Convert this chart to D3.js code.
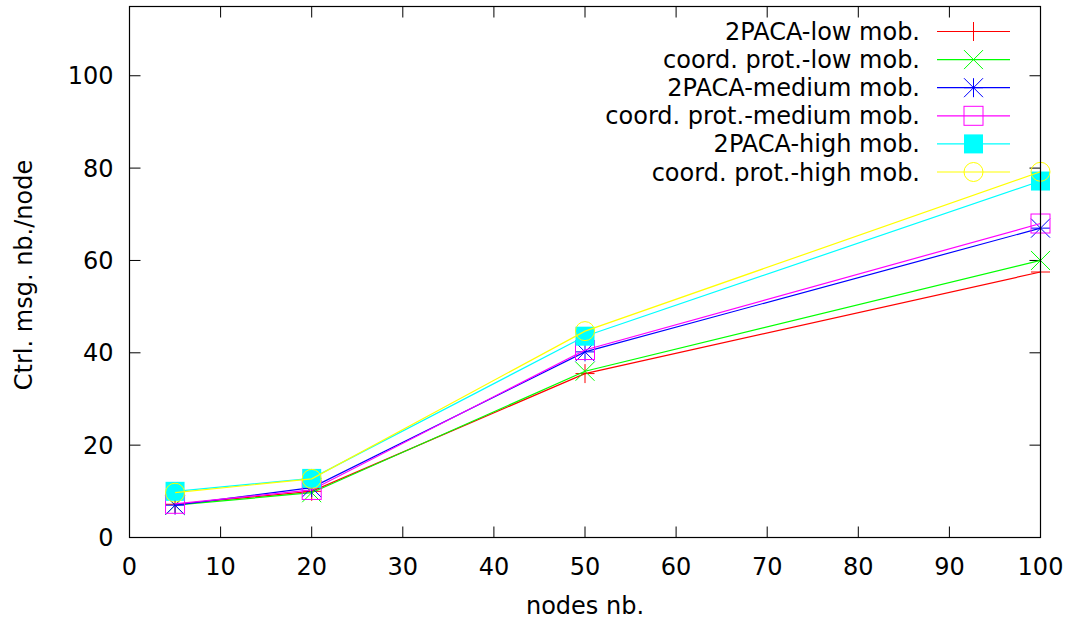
<!DOCTYPE html>
<html>
<head>
<meta charset="utf-8">
<script src="https://cdn.jsdelivr.net/npm/d3@7"></script>
<style>
  body { margin: 0; background: #fff; }
  text { font-family: "DejaVu Sans", sans-serif; fill: #000; }
</style>
</head>
<body>
<script>
// data
var nodes = [5, 20, 50, 100];
var xTicks = [0, 10, 20, 30, 40, 50, 60, 70, 80, 90, 100];
var yTicks = [0, 20, 40, 60, 80, 100];

var seriesNames = ["2PACA-low mob.", "coord. prot.-low mob.", "2PACA-medium mob.",
                   "coord. prot.-medium mob.", "2PACA-high mob.", "coord. prot.-high mob."];
var seriesColors = ["#ff0000", "#00ff00", "#0000ff", "#ff00ff", "#00ffff", "#ffff00"];
var seriesMarkers = ["plus", "cross", "star", "square", "filledSquare", "circle"];

var lowPaca = [7.2, 10.0, 35.5, 57.5];
var lowCoord = [7.0, 9.7, 36.0, 60.0];
var medPaca = [7.0, 10.8, 40.2, 67.0];
var medCoord = [7.3, 10.3, 40.6, 68.0];
var highPaca = [10.0, 12.8, 43.6, 77.2];
var highCoord = [9.7, 12.7, 44.7, 79.2];
var seriesValues = [lowPaca, lowCoord, medPaca, medCoord, highPaca, highCoord];

// set the dimensions and margins of the graph
var W = 1073, H = 623;
var margin = {top: 6.5, right: 32.5, bottom: 85.5, left: 129.5},
    width = W - margin.left - margin.right,
    height = H - margin.top - margin.bottom;

var svg = d3.select("body").append("svg")
    .attr("width", W)
    .attr("height", H);

var g = svg.append("g")
    .attr("transform", "translate(" + margin.left + "," + margin.top + ")");

var x = d3.scaleLinear().domain([0, 100]).range([0, width]);
var y = d3.scaleLinear().domain([0, 115]).range([height, 0]);

var fs = 24;
var tickLen = 11;

// ticks, mirrored on all four sides, pointing inward
g.append("g")
  .selectAll("line").data(xTicks).enter().append("line")
    .attr("x1", d => x(d)).attr("x2", d => x(d))
    .attr("y1", height).attr("y2", height - tickLen)
    .attr("stroke", "#000");
g.append("g")
  .selectAll("line").data(xTicks).enter().append("line")
    .attr("x1", d => x(d)).attr("x2", d => x(d))
    .attr("y1", 0).attr("y2", tickLen)
    .attr("stroke", "#000");
g.append("g")
  .selectAll("line").data(yTicks).enter().append("line")
    .attr("x1", 0).attr("x2", tickLen)
    .attr("y1", d => y(d)).attr("y2", d => y(d))
    .attr("stroke", "#000");
g.append("g")
  .selectAll("line").data(yTicks).enter().append("line")
    .attr("x1", width).attr("x2", width - tickLen)
    .attr("y1", d => y(d)).attr("y2", d => y(d))
    .attr("stroke", "#000");

// tick labels
g.append("g")
  .selectAll("text").data(xTicks).enter().append("text")
    .attr("x", d => x(d)).attr("y", height + 37)
    .attr("text-anchor", "middle")
    .style("font-size", fs + "px")
    .text(d => d);
g.append("g")
  .selectAll("text").data(yTicks).enter().append("text")
    .attr("x", -16).attr("y", d => y(d) + 8.5)
    .attr("text-anchor", "end")
    .style("font-size", fs + "px")
    .text(d => d);

// axis titles
svg.append("text")
  .attr("x", margin.left + width / 2).attr("y", 614)
  .attr("text-anchor", "middle")
  .style("font-size", fs + "px")
  .text("nodes nb.");
svg.append("text")
  .attr("transform", "translate(32,275) rotate(-90)")
  .attr("text-anchor", "middle")
  .style("font-size", fs + "px")
  .text("Ctrl. msg. nb./node");

// marker drawing
function drawMarker(sel, type, color) {
  var s = 9.5;
  if (type === "plus") {
    sel.append("path").attr("d", "M" + (-s) + ",0H" + s + "M0," + (-s) + "V" + s)
      .attr("stroke", color).attr("fill", "none");
  } else if (type === "cross") {
    sel.append("path").attr("d", "M" + (-s) + "," + (-s) + "L" + s + "," + s + "M" + (-s) + "," + s + "L" + s + "," + (-s))
      .attr("stroke", color).attr("fill", "none");
  } else if (type === "star") {
    sel.append("path").attr("d", "M" + (-s) + ",0H" + s + "M0," + (-s) + "V" + s +
        "M" + (-s) + "," + (-s) + "L" + s + "," + s + "M" + (-s) + "," + s + "L" + s + "," + (-s))
      .attr("stroke", color).attr("fill", "none");
  } else if (type === "square") {
    sel.append("rect").attr("x", -s).attr("y", -s).attr("width", 2 * s).attr("height", 2 * s)
      .attr("stroke", color).attr("fill", "none");
  } else if (type === "filledSquare") {
    sel.append("rect").attr("x", -s).attr("y", -s).attr("width", 2 * s).attr("height", 2 * s)
      .attr("stroke", "none").attr("fill", color);
  } else if (type === "circle") {
    sel.append("circle").attr("r", s)
      .attr("stroke", color).attr("fill", "none");
  }
}

var line = d3.line()
  .x(d => x(d[0]))
  .y(d => y(d[1]));

seriesValues.forEach(function(vals, i) {
  var pts = nodes.map((n, j) => [n, vals[j]]);
  g.append("path")
    .datum(pts)
    .attr("d", line)
    .attr("fill", "none")
    .attr("stroke", seriesColors[i])
    .attr("stroke-width", 1.2);
  pts.forEach(function(p) {
    var m = g.append("g").attr("transform", "translate(" + x(p[0]) + "," + y(p[1]) + ")");
    drawMarker(m, seriesMarkers[i], seriesColors[i]);
  });
});

// legend
var legend = svg.append("g");
seriesNames.forEach(function(name, i) {
  var ly = 31.5 + i * 28.1;
  legend.append("text")
    .attr("x", 920).attr("y", ly + 8.5)
    .attr("text-anchor", "end")
    .style("font-size", fs + "px")
    .text(name);
  legend.append("line")
    .attr("x1", 937).attr("x2", 1010)
    .attr("y1", ly).attr("y2", ly)
    .style("stroke", seriesColors[i])
    .attr("stroke-width", 1.2);
  var m = legend.append("g").attr("transform", "translate(973.5," + ly + ")");
  drawMarker(m, seriesMarkers[i], seriesColors[i]);
});

// plot frame
g.append("rect")
  .attr("x", 0).attr("y", 0)
  .attr("width", width).attr("height", height)
  .attr("fill", "none")
  .attr("stroke", "#000")
  .attr("stroke-width", 1.2);
</script>
</body>
</html>
